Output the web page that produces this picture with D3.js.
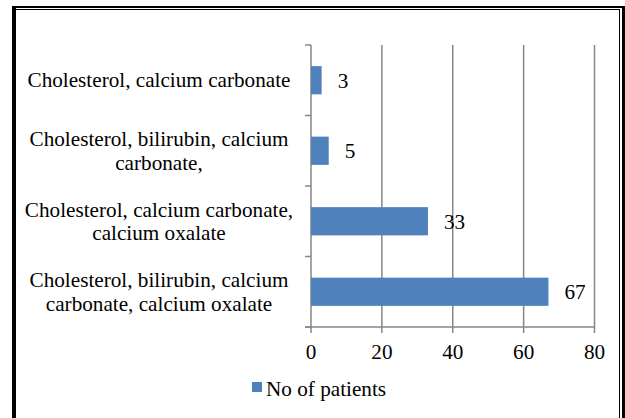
<!DOCTYPE html>
<html>
<head>
<meta charset="utf-8">
<script src="https://cdn.jsdelivr.net/npm/d3@7"></script>
<style>
  html, body { margin: 0; padding: 0; background: #fff; }
  svg { display: block; }
</style>
</head>
<body>
<svg id="chart" width="625" height="418"></svg>
<script>
// Data (top to bottom as displayed)
const categories = [
  ["Cholesterol, calcium carbonate"],
  ["Cholesterol, bilirubin, calcium", "carbonate,"],
  ["Cholesterol, calcium carbonate,", "calcium oxalate"],
  ["Cholesterol, bilirubin, calcium", "carbonate, calcium oxalate"]
];
const values = [3, 5, 33, 67];
const xTicks = [0, 20, 40, 60, 80];
const seriesName = "No of patients";

(function () {
const svg = d3.select("#chart")
  .attr("font-family", "'Liberation Serif', 'Times New Roman', Times, serif");
const W = 625, H = 418;
const barColor = "#4F81BD";
const gridColor = "#868686";
const fs = 21.2;

const pLeft = 311, pRight = 594.5, pTop = 45, pBottom = 327;
const keys = categories.map((c, i) => i);

const x = d3.scaleLinear().domain([0, 80]).range([pLeft, pRight]);
const y = d3.scaleBand().domain(keys).range([pTop, pBottom]).paddingInner(0.6).paddingOuter(0.3);

// frame
const frame = svg.append("g");
frame.append("rect").attr("x", 12).attr("y", 6).attr("width", 613).attr("height", 2).attr("fill", "#000");
frame.append("rect").attr("x", 12).attr("y", 6).attr("width", 4).attr("height", H - 6).attr("fill", "#000");
frame.append("rect").attr("x", 16).attr("y", 9).attr("width", 604).attr("height", 1).attr("fill", "#000");
frame.append("rect").attr("x", 619).attr("y", 9).attr("width", 1).attr("height", H - 9).attr("fill", "#000");
frame.append("rect").attr("x", 622).attr("y", 6).attr("width", 3).attr("height", H - 6).attr("fill", "#000");

// vertical gridlines (with tick marks below axis)
const grid = svg.append("g");
grid.selectAll("line.grid").data(xTicks).join("line")
  .attr("x1", d => x(d)).attr("x2", d => x(d))
  .attr("y1", pTop).attr("y2", pBottom + 6)
  .attr("stroke", gridColor).attr("stroke-width", 1.5);

// category axis ticks + bottom axis line
const step = y.step();
const catTicks = d3.range(categories.length + 1).map(i => pTop + i * step);
grid.selectAll("line.ct").data(catTicks).join("line")
  .attr("x1", pLeft - 6).attr("x2", pLeft)
  .attr("y1", d => d).attr("y2", d => d)
  .attr("stroke", gridColor).attr("stroke-width", 1.5);
grid.append("line")
  .attr("x1", pLeft - 6).attr("x2", pRight)
  .attr("y1", pBottom).attr("y2", pBottom)
  .attr("stroke", gridColor).attr("stroke-width", 1.5);

// bars
svg.append("g").selectAll("rect").data(values).join("rect")
  .attr("x", x(0))
  .attr("y", (d, i) => y(i))
  .attr("width", d => x(d) - x(0))
  .attr("height", y.bandwidth())
  .attr("fill", barColor);

// value labels
svg.append("g").selectAll("text").data(values).join("text")
  .attr("x", d => x(d) + 16)
  .attr("y", (d, i) => y(i) + y.bandwidth() / 2 + 7.5)
  .attr("font-size", fs)
  .text(d => d);

// category labels
const lineH = 23.5;
const cl = svg.append("g");
categories.forEach((lines, i) => {
  const cy = y(i) + y.bandwidth() / 2;
  const t = cl.append("text").attr("text-anchor", "middle").attr("font-size", fs);
  lines.forEach((ln, j) => {
    t.append("tspan").attr("x", 159)
      .attr("y", cy + (j - (lines.length - 1) / 2) * lineH + 7)
      .text(ln);
  });
});

// x tick labels
svg.append("g").selectAll("text").data(xTicks).join("text")
  .attr("x", d => x(d)).attr("y", 359)
  .attr("text-anchor", "middle").attr("font-size", fs)
  .text(d => d);

// legend
const lg = svg.append("g");
lg.append("rect").attr("x", 252).attr("y", 382).attr("width", 10).attr("height", 10).attr("fill", barColor);
lg.append("text").attr("x", 266).attr("y", 396).attr("font-size", fs).text(seriesName);
})();
</script>
</body>
</html>
